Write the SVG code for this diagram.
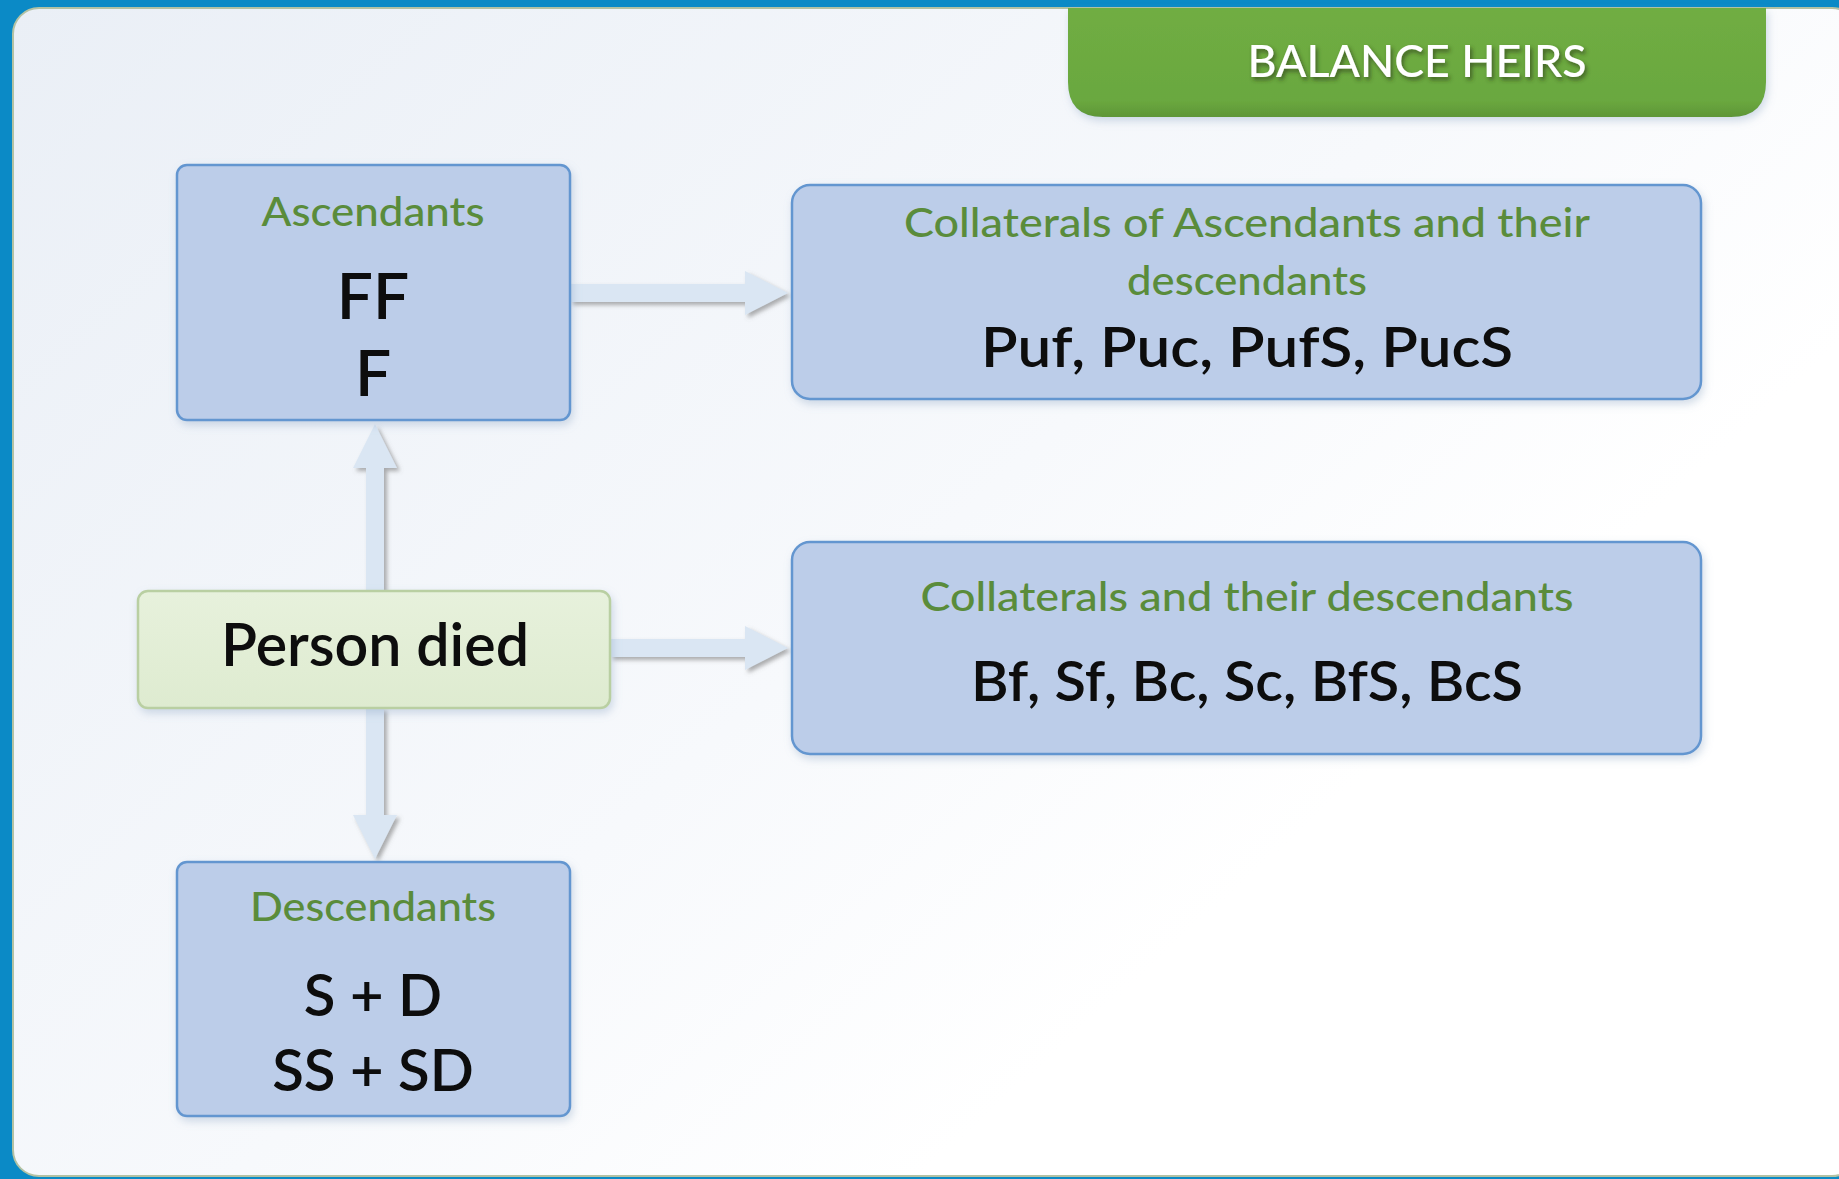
<svg xmlns="http://www.w3.org/2000/svg" width="1839" height="1179" viewBox="0 0 1839 1179">
  <defs>
    <linearGradient id="panelFill" x1="0" y1="0" x2="1" y2="0.7">
      <stop offset="0" stop-color="#eaeff6"/>
      <stop offset="0.55" stop-color="#f7f9fc"/>
      <stop offset="0.8" stop-color="#ffffff"/>
    </linearGradient>
    <linearGradient id="diedFill" x1="0" y1="0" x2="0" y2="1">
      <stop offset="0" stop-color="#e7f1dc"/>
      <stop offset="1" stop-color="#deebd0"/>
    </linearGradient>
    <linearGradient id="tabFill" x1="0" y1="0" x2="0" y2="1">
      <stop offset="0" stop-color="#70ad43"/>
      <stop offset="0.85" stop-color="#6aa83f"/>
      <stop offset="1" stop-color="#5f9637"/>
    </linearGradient>
    <filter id="boxShadow" x="-10%" y="-10%" width="125%" height="130%">
      <feDropShadow dx="2" dy="4" stdDeviation="4" flood-color="#7f9bbd" flood-opacity="0.35"/>
    </filter>
    <filter id="arrowShadow" x="-20%" y="-20%" width="150%" height="150%">
      <feDropShadow dx="3" dy="3" stdDeviation="2" flood-color="#6c6c6c" flood-opacity="0.55"/>
    </filter>
    <filter id="titleShadow" x="-10%" y="-20%" width="130%" height="160%">
      <feDropShadow dx="2" dy="3" stdDeviation="2" flood-color="#2f3f1f" flood-opacity="0.7"/>
    </filter>
    <style>
      .box { fill: #bccde9; stroke: #6496d0; stroke-width: 2.5; }
      .died { fill: url(#diedFill); stroke: #b9cfa2; stroke-width: 2.5; }
      .arrow { fill: #dae6f3; }
      .head { font-family: Lato, "Open Sans", "Liberation Sans", sans-serif; fill: #5a8c3b; font-size: 40px; font-weight: 500; text-anchor: middle; }
      .body { font-family: Lato, "Open Sans", "Liberation Sans", sans-serif; fill: #0d0d0d; font-weight: 600; text-anchor: middle; }
      .title { font-family: Lato, "Liberation Sans", sans-serif; fill: #ffffff; font-size: 44px; font-weight: 500; text-anchor: middle; }
    </style>
  </defs>

  <!-- frame and backdrop -->
  <rect x="0" y="0" width="1839" height="1179" fill="#0b8ac6"/>
  <rect x="13" y="8" width="1845" height="1168" rx="26" fill="url(#panelFill)" stroke="#b3c2a3" stroke-width="2"/>

  <!-- heading tab -->
  <g id="title">
    <path d="M1068 8 H1766 V82 Q1766 117 1731 117 H1103 Q1068 117 1068 82 Z" fill="url(#tabFill)" filter="url(#boxShadow)"/>
    <text class="title" x="1417" y="77" textLength="339" lengthAdjust="spacingAndGlyphs" filter="url(#titleShadow)">BALANCE HEIRS</text>
  </g>

  <!-- connectors -->
  <g id="connectors" filter="url(#arrowShadow)">
    <!-- Ascendants to Collaterals of Ascendants -->
    <polygon class="arrow" points="570,284 745,284 745,271 788,293 745,315 745,302 570,302"/>
    <!-- Person died to Collaterals -->
    <polygon class="arrow" points="610,639 745,639 745,626 788,648 745,670 745,657 610,657"/>
    <!-- Person died up to Ascendants -->
    <polygon class="arrow" points="366,591 366,468 353,468 375,424 397,468 384,468 384,591"/>
    <!-- Person died down to Descendants -->
    <polygon class="arrow" points="366,708 366,815 353,815 375,859 397,815 384,815 384,708"/>
  </g>

  <g id="ascendants">
    <rect class="box" x="177" y="165" width="393" height="255" rx="10" filter="url(#boxShadow)"/>
    <text class="head" x="373" y="226" textLength="223" lengthAdjust="spacingAndGlyphs">Ascendants</text>
    <text class="body" x="373" y="319" font-size="64">FF</text>
    <text class="body" x="373" y="396" font-size="64">F</text>
  </g>

  <g id="person-died">
    <rect class="died" x="138" y="591" width="472" height="117" rx="10" filter="url(#boxShadow)"/>
    <text class="body" x="375" y="666" font-size="60" textLength="308" lengthAdjust="spacingAndGlyphs">Person died</text>
  </g>

  <g id="descendants">
    <rect class="box" x="177" y="862" width="393" height="254" rx="10" filter="url(#boxShadow)"/>
    <text class="head" x="373" y="921" textLength="246" lengthAdjust="spacingAndGlyphs">Descendants</text>
    <text class="body" x="373" y="1016" font-size="58">S + D</text>
    <text class="body" x="373" y="1091" font-size="58">SS + SD</text>
  </g>

  <g id="collaterals-of-ascendants">
    <rect class="box" x="792" y="185" width="909" height="214" rx="18" filter="url(#boxShadow)"/>
    <text class="head" x="1247" y="237" textLength="686" lengthAdjust="spacingAndGlyphs">Collaterals of Ascendants and their</text>
    <text class="head" x="1247" y="295" textLength="240" lengthAdjust="spacingAndGlyphs">descendants</text>
    <text class="body" x="1247" y="367" font-size="56" textLength="532" lengthAdjust="spacingAndGlyphs">Puf, Puc, PufS, PucS</text>
  </g>

  <g id="collaterals">
    <rect class="box" x="792" y="542" width="909" height="212" rx="18" filter="url(#boxShadow)"/>
    <text class="head" x="1247" y="611" textLength="653" lengthAdjust="spacingAndGlyphs">Collaterals and their descendants</text>
    <text class="body" x="1247" y="701" font-size="56" textLength="552" lengthAdjust="spacingAndGlyphs">Bf, Sf, Bc, Sc, BfS, BcS</text>
  </g>
</svg>
